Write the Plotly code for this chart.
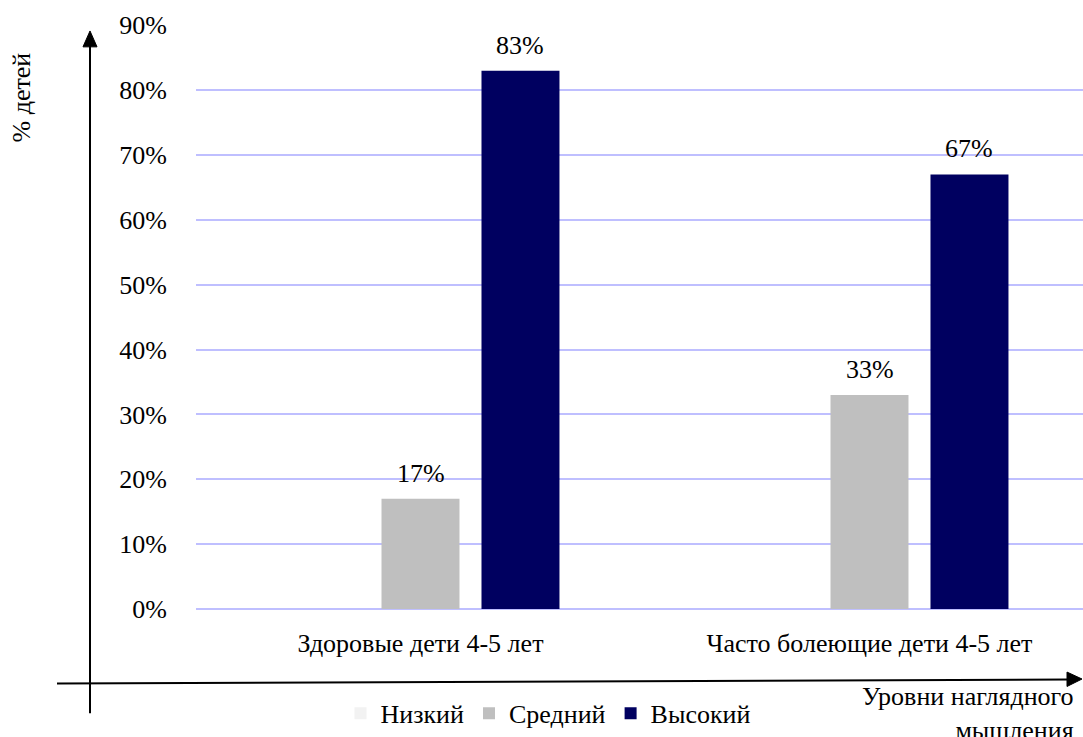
import plotly.graph_objects as go

categories = ["Здоровые дети 4-5 лет", "Часто болеющие дети 4-5 лет"]
series_names = ["Низкий", "Средний", "Высокий"]
low = [0, 0]
mid = [17, 33]
high = [83, 67]
series_values = [low, mid, high]
colors = ["#F2F2F2", "#BFBFBF", "#000060"]
y_ticks = list(range(0, 91, 10))
y_tick_labels = [f"{v}%" for v in y_ticks]

FONT = "Liberation Serif"
FS = 26
W, H = 1083, 737
L, R, T, B = 196, 0, 25, 124
PW, PH = W - L - R, H - T - B

def px(X):
    return (X - L) / PW

def py(Y):
    return (H - B - Y) / PH

bargap = 0.332
bargroupgap = 0.22

fig = go.Figure()
for name, vals, col in zip(series_names, series_values, colors):
    fig.add_trace(go.Bar(x=categories, y=vals, name=name, marker_color=col,
                         marker_line_width=0))

annotations = []
slot = (1 - bargap) / len(series_names)
for si, vals in enumerate(series_values):
    off = (si - (len(series_names) - 1) / 2) * slot
    for ci, v in enumerate(vals):
        if v > 0:
            annotations.append(dict(x=ci + off, y=v, xref="x", yref="y",
                                    text=f"{v}%", showarrow=False,
                                    yanchor="bottom", yshift=9,
                                    font=dict(family=FONT, size=FS, color="black")))

annotations.append(dict(x=px(1076), y=py(684), xref="paper", yref="paper",
                        text="Уровни наглядного<br>мышления", showarrow=False,
                        xanchor="right", yanchor="top", align="right",
                        font=dict(family=FONT, size=FS, color="black")))
annotations.append(dict(x=px(22), y=py(98), xref="paper", yref="paper",
                        text="% детей", showarrow=False, textangle=-90,
                        xanchor="center", yanchor="middle",
                        font=dict(family=FONT, size=FS, color="black")))

shapes = [
    dict(type="line", xref="paper", yref="paper", x0=px(90), y0=py(718), x1=px(90), y1=py(45),
         line=dict(color="black", width=2)),
    dict(type="path", xref="paper", yref="paper",
         path=f"M {px(90)},{py(31)} L {px(83)},{py(47)} L {px(97)},{py(47)} Z",
         fillcolor="black", line=dict(color="black", width=1)),
    dict(type="line", xref="paper", yref="paper", x0=px(57), y0=py(688), x1=px(1069), y1=py(684),
         line=dict(color="black", width=2)),
    dict(type="path", xref="paper", yref="paper",
         path=f"M {px(1082)},{py(683.5)} L {px(1067)},{py(676.5)} L {px(1067)},{py(691)} Z",
         fillcolor="black", line=dict(color="black", width=1)),
]

fig.update_layout(
    width=W, height=H,
    margin=dict(l=L, r=R, t=T, b=B, pad=0),
    paper_bgcolor="white", plot_bgcolor="white",
    barmode="group", bargap=bargap, bargroupgap=bargroupgap,
    font=dict(family=FONT, size=FS, color="black"),
    showlegend=True,
    legend=dict(orientation="h", x=px(548), y=py(718), xanchor="center", yanchor="middle",
                font=dict(family=FONT, size=FS, color="black"), itemwidth=30,
                bgcolor="rgba(0,0,0,0)"),
    annotations=annotations,
    shapes=shapes,
)
fig.update_xaxes(range=[-0.5, -0.5 + PW / 449], showgrid=False, showline=False,
                 ticks="", tickfont=dict(family=FONT, size=FS), ticklabelstandoff=16,
                 fixedrange=True)
fig.update_yaxes(range=[0, 90.05], tickvals=y_ticks, ticktext=y_tick_labels,
                 showgrid=True, gridcolor="#BFBFFF", gridwidth=1.5,
                 zeroline=True, zerolinecolor="#BFBFFF", zerolinewidth=1.5,
                 showline=False, ticks="", ticklabelstandoff=28,
                 tickfont=dict(family=FONT, size=FS), fixedrange=True)

fig.write_html("out.html")
